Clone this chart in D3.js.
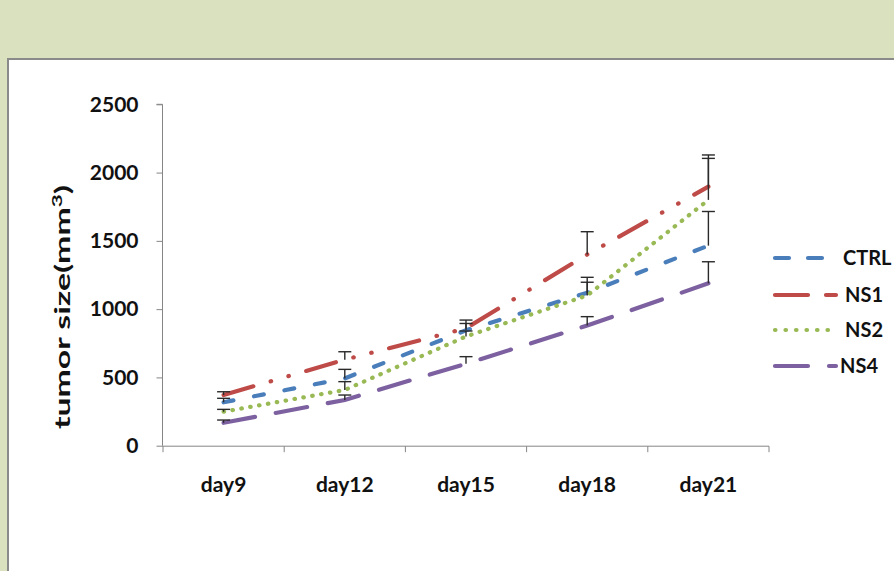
<!DOCTYPE html>
<html><head><meta charset="utf-8">
<script src="https://cdn.jsdelivr.net/npm/d3@7"></script>
<style>html,body{margin:0;padding:0;background:#d9e1bf;overflow:hidden}</style>
</head><body>
<svg id="chart" width="894" height="571"></svg>
<script>
const days = ["day9","day12","day15","day18","day21"];
const seriesNames = ["CTRL","NS1","NS2","NS4"];
const ctrl = [318, 493, 845, 1120, 1465];
const ns1  = [371, 630, 860, 1400, 1897];
const ns2  = [249, 408, 800, 1100, 1800];
const ns4  = [168, 335, 600, 880, 1189];
const ctrlErr = [29, 66, 50, 113, 250];
const ns1Err  = [24, 58, 60, 167, 232];
const ns2Err  = [17, 61, 40, 97, 304];
const ns4Err  = [20, 36, 52, 65, 158];
const yTicks = [0, 500, 1000, 1500, 2000, 2500];

const colors = {CTRL:"#4a7ebb", NS1:"#be4b48", NS2:"#98b954", NS4:"#7d60a0"};
const dashes = {CTRL:"10,21", NS1:"31,18,0.5,18,0.5,18", NS2:"0.5,8.5", NS4:"32,21"};
const legendDashes = {CTRL:"14,19", NS1:"33,18", NS2:"0.5,10", NS4:"33,21"};
const values = {CTRL:ctrl, NS1:ns1, NS2:ns2, NS4:ns4};
const errs = {CTRL:ctrlErr, NS1:ns1Err, NS2:ns2Err, NS4:ns4Err};

const svg = d3.select("#chart");
const font = "Lato, 'Open Sans', sans-serif";

// white panel
svg.append("rect").attr("x",8).attr("y",59).attr("width",900).attr("height",530)
  .attr("fill","#ffffff").attr("stroke","#8a8a8a").attr("stroke-width",2);

const x = d3.scaleBand().domain(days).range([163, 769]).padding(0);
const y = d3.scaleLinear().domain([0,2500]).range([445.7, 104.3]);

// y axis
const yAxis = svg.append("g").attr("transform","translate(162.5,0)")
  .call(d3.axisLeft(y).tickValues(yTicks).tickSize(6).tickPadding(18).tickFormat(d3.format("d")));
yAxis.select(".domain").attr("stroke","#868686").attr("d", `M-6,${y(2500)}H0V${y(0)}`);
yAxis.selectAll(".tick line").attr("stroke","#868686");
yAxis.selectAll(".tick text").attr("font-family",font).attr("font-weight","bold")
  .attr("font-size",21).attr("fill","#111");

// x axis
const xAxis = svg.append("g").attr("transform",`translate(0,${y(0)+0.5})`)
  .call(d3.axisBottom(x).tickSize(0).tickPadding(46));
xAxis.select(".domain").attr("stroke","#868686").attr("d", `M${x.range()[0]-1},0H${x.range()[1]}`);
xAxis.selectAll(".tick text").attr("font-family",font).attr("font-weight","bold")
  .attr("font-size",21).attr("fill","#111").attr("dy","0");
const bounds = days.map(d => x(d)).concat([x.range()[1]]);
xAxis.selectAll(".bnd").data(bounds).enter().append("line")
  .attr("x1",d=>d).attr("x2",d=>d).attr("y1",0).attr("y2",6).attr("stroke","#868686");

// y title (stretched along its length to match the reference)
const title = svg.append("text").attr("text-anchor","middle").attr("font-family",font)
  .attr("font-weight","bold").attr("font-size",21).attr("fill","#111")
  .html('tumor size(mm<tspan dy="-8" font-size="14">3</tspan><tspan dy="8">)</tspan>');
const tw = title.node().getBBox().width;
title.attr("transform",`translate(70,307) rotate(-90) scale(${244/tw},1)`);

const cx = d => x(d) + x.bandwidth()/2;

// lines
const line = d3.line().x((d,i)=>cx(days[i])).y(d=>y(d));
seriesNames.forEach(s => {
  svg.append("path").datum(values[s]).attr("d", line)
    .attr("fill","none").attr("stroke",colors[s]).attr("stroke-width",4.2)
    .attr("stroke-linecap","round").attr("stroke-dasharray",dashes[s]);
});

// error bars (plus only)
seriesNames.forEach(s => {
  const g = svg.append("g");
  values[s].forEach((v,i) => {
    const px = cx(days[i]);
    const top = y(v + errs[s][i]);
    g.append("line").attr("x1",px).attr("x2",px).attr("y1",y(v)).attr("y2",top)
      .attr("stroke","#2a2a2a").attr("stroke-width",1.4);
    g.append("line").attr("x1",px-6.5).attr("x2",px+6.5).attr("y1",top).attr("y2",top)
      .attr("stroke","#2a2a2a").attr("stroke-width",1.4);
  });
});

// legend
const legY = {CTRL:258, NS1:295, NS2:330, NS4:366};
const legTextX = {CTRL:843, NS1:845, NS2:845, NS4:840};
const leg = svg.append("g");
seriesNames.forEach(s => {
  const ly = legY[s];
  leg.append("line").attr("x1",775).attr("x2", s==="NS2" ? 833 : 836).attr("y1",ly).attr("y2",ly)
    .attr("stroke",colors[s]).attr("stroke-width",4.2).attr("stroke-linecap","round")
    .attr("stroke-dasharray", legendDashes[s]);
  leg.append("text").attr("x", legTextX[s]).attr("y",ly+7)
    .attr("font-family",font).attr("font-weight","bold").attr("font-size",20).attr("fill","#111").text(s);
});
</script>
</body></html>
